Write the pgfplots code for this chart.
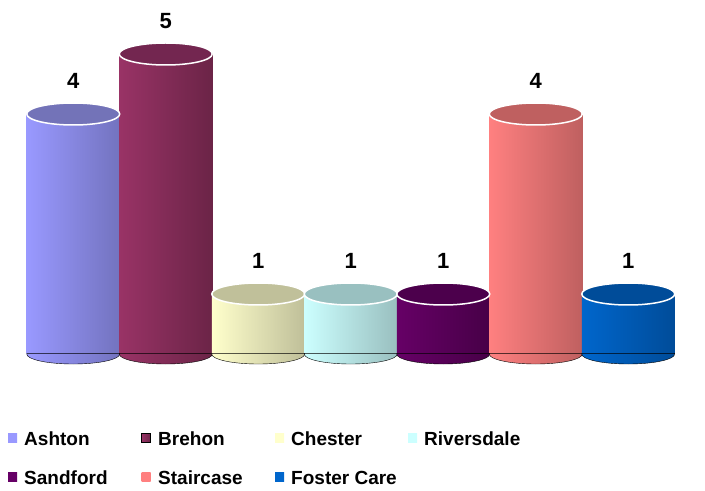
\documentclass[border=0pt]{standalone}
\usepackage{pgfplots}
\pgfplotsset{compat=1.18}
\usepackage{fontspec}
\setmainfont{Liberation Sans}

\definecolor{aL}{HTML}{9999FF}\definecolor{aR}{HTML}{7373BF}\definecolor{aT}{HTML}{7373B8}
\definecolor{bL}{HTML}{993366}\definecolor{bR}{HTML}{6B2447}\definecolor{bT}{HTML}{732650}
\definecolor{cL}{HTML}{FFFFCC}\definecolor{cR}{HTML}{BFBF99}\definecolor{cT}{HTML}{C0C09A}
\definecolor{rL}{HTML}{CCFFFF}\definecolor{rR}{HTML}{99BFBF}\definecolor{rT}{HTML}{99C0C0}
\definecolor{sL}{HTML}{660066}\definecolor{sR}{HTML}{470047}\definecolor{sT}{HTML}{4C004C}
\definecolor{tL}{HTML}{FF8080}\definecolor{tR}{HTML}{BF6060}\definecolor{tT}{HTML}{BF6060}
\definecolor{fL}{HTML}{0066CC}\definecolor{fR}{HTML}{004C99}\definecolor{fT}{HTML}{004C99}

\newcommand{\mkcyl}[1]{%
  \pgfdeclareplotmark{bot#1}{\path[left color=#1L,right color=#1R] (-46.5bp,0.6bp) -- (-46.5bp,0pt) arc [start angle=180, end angle=360, x radius=46.5bp, y radius=10bp] -- (46.5bp,0.6bp) -- cycle;}%
  \pgfdeclareplotmark{top#1}{\path[fill=#1T,draw=white,line width=1.5bp] (0pt,0pt) ellipse [x radius=46.5bp, y radius=11bp];}%
}
\mkcyl{a}\mkcyl{b}\mkcyl{c}\mkcyl{r}\mkcyl{s}\mkcyl{t}\mkcyl{f}

\pgfplotsset{
  body/.style={ybar, bar width=93bp, bar shift=0pt, draw=none, left color=#1L, right color=#1R,
    legend image code/.code={\path[left color=#1L, right color=#1L] (0bp,3bp) rectangle (9bp,12bp);}},
  bot/.style={only marks, mark=bot#1, forget plot},
  top/.style={only marks, mark=top#1, forget plot, nodes near coords,
    nodes near coords style={font=\bfseries\fontsize{22bp}{22bp}\selectfont, anchor=center, yshift=33bp, text=black}},
}
\newcommand{\lgent}[1]{\addlegendentry{\hspace{7bp}\makebox[117bp][l]{\strut #1}}}

\begin{document}
\begin{tikzpicture}
\useasboundingbox (0,0) rectangle (705bp,491bp);
\begin{axis}[
  at={(27bp,137bp)}, anchor=south west,
  scale only axis, width=647.5bp, height=300bp,
  xmin=-0.5, xmax=6.5, ymin=0, ymax=5,
  axis lines=none, clip=false,
  /pgf/number format/assume math mode=true,
  legend columns=4,
  legend style={at={(-0.0293,-0.252)}, anchor=north west, draw=none, fill=none,
    inner sep=0pt, column sep=0pt, row sep=22bp,
    nodes={inner sep=0pt, anchor=base west},
    font=\bfseries\fontsize{19bp}{22bp}\selectfont},
]
% Ashton
\addplot[bot=a] coordinates {(0,0)};
\addplot[body=a] coordinates {(0,4)};\lgent{Ashton}
\addplot[top=a] coordinates {(0,4)};
% Brehon
\addplot[bot=b] coordinates {(1,0)};
\addplot[body=b, legend image code/.code={\filldraw[fill=bL,draw=black,line width=1bp] (0bp,3bp) rectangle (9bp,12bp);}] coordinates {(1,5)};\lgent{Brehon}
\addplot[top=b] coordinates {(1,5)};
% Chester
\addplot[bot=c] coordinates {(2,0)};
\addplot[body=c] coordinates {(2,1)};\lgent{Chester}
\addplot[top=c] coordinates {(2,1)};
% Riversdale
\addplot[bot=r] coordinates {(3,0)};
\addplot[body=r] coordinates {(3,1)};\lgent{Riversdale}
\addplot[top=r] coordinates {(3,1)};
% Sandford
\addplot[bot=s] coordinates {(4,0)};
\addplot[body=s] coordinates {(4,1)};\lgent{Sandford}
\addplot[top=s] coordinates {(4,1)};
% Staircase
\addplot[bot=t] coordinates {(5,0)};
\addplot[body=t] coordinates {(5,4)};\lgent{Staircase}
\addplot[top=t] coordinates {(5,4)};
% Foster Care
\addplot[bot=f] coordinates {(6,0)};
\addplot[body=f] coordinates {(6,1)};\lgent{Foster Care}
\addplot[top=f] coordinates {(6,1)};
\end{axis}
\end{tikzpicture}
\end{document}
